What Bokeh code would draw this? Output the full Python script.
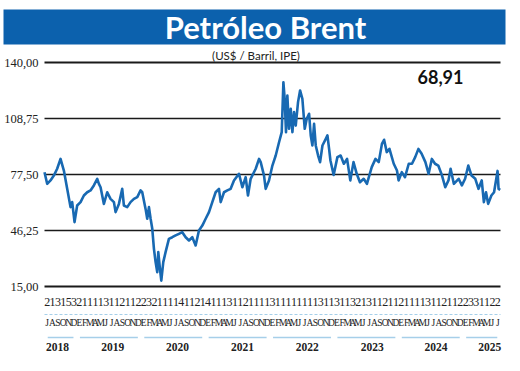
from bokeh.plotting import figure
from bokeh.models import Range1d
from bokeh.core.properties import value
from bokeh.embed import file_html
from bokeh.resources import INLINE

# ---------------- data ----------------
title_text = "Petróleo Brent"
subtitle_text = "(US$ / Barril, IPE)"

y_ticks = [15.0, 46.25, 77.5, 108.75, 140.0]

# time in months since 1 Jul 2018
t_months = [
    0.00, 0.50, 1.12, 1.74, 2.36, 2.99, 3.61, 4.23, 4.85, 5.16, 5.60,
    6.09, 6.72, 7.34, 7.96, 8.58, 9.20, 9.83, 10.14, 10.45, 11.07, 11.69,
    12.31, 12.94, 13.25, 13.87, 14.49, 14.80, 15.42, 16.04, 16.67, 17.29,
    17.91, 18.22, 18.84, 19.15, 19.47, 19.78, 20.09, 20.40, 20.71, 21.02,
    21.21, 21.52, 21.77, 22.14, 22.57, 23.19, 23.82, 24.44, 25.06, 25.68,
    26.31, 26.93, 27.55, 28.17, 28.79, 29.42, 30.04, 30.66, 31.28, 31.90,
    32.52, 32.84, 33.46, 34.08, 34.70, 35.32, 36.25, 36.88, 37.50, 37.93,
    38.43, 39.37, 39.99,
    40.30, 40.92, 41.23, 41.85, 42.48, 43.10, 43.72, 44.22, 44.53, 44.77,
    45.02, 45.27, 45.58, 45.90, 46.21, 46.52, 46.83, 47.26, 47.64, 48.07,
    48.51, 48.88, 49.32, 49.63, 49.94, 50.25, 50.56, 51.00, 51.37, 51.81,
    52.43, 52.74, 53.05,
    53.3, 53.9, 54.6, 55.2, 55.8, 56.4, 57.0, 57.6, 58.2, 58.8,
    59.5, 60.1, 61.0, 61.7, 62.3, 62.9, 63.3, 63.8, 64.3, 65.1,
    65.7, 66.0, 66.6, 67.2, 67.9, 68.5, 69.1, 69.7, 70.3, 71.0,
    71.6, 72.2, 72.8, 73.4, 74.1, 74.7, 75.3, 75.7, 76.3, 77.2,
    77.8, 78.4, 79.0, 79.6, 80.3, 80.9, 81.5, 81.9, 82.3, 82.7,
    83.3, 83.8, 84.45, 84.64, 84.95,
]

brent_usd = [
    78.8, 72.3, 74.2, 76.9, 80.7, 86.2, 79.7, 69.5, 59.3, 62.1, 50.9,
    60.2, 62.1, 65.8, 67.6, 68.6, 71.4, 75.1, 72.3, 70.4, 61.1, 67.6,
    63.9, 62.1, 56.5, 61.1, 69.5, 60.2, 59.3, 62.1, 63.9, 64.9,
    68.6, 67.6, 58.3, 52.8, 59.3, 52.8, 47.2, 36.0, 28.6, 23.0,
    34.2, 24.9, 18.3, 28.6, 34.2, 41.6, 42.5, 43.5, 44.4, 45.3,
    42.5, 40.7, 42.5, 37.9, 46.3, 49.0, 52.8, 56.5, 62.1, 67.6,
    69.5, 62.1, 67.6, 68.6, 69.5, 74.2, 77.9, 70.4, 76.0, 65.8,
    75.1, 80.7, 86.2,
    84.4, 76.9, 69.5, 74.2, 82.5, 88.1, 95.5, 101.1, 129.0, 119.7,
    101.1, 121.6, 103.0, 114.1, 101.1, 112.3, 104.8, 117.9, 124.4, 119.7,
    103.0, 108.6, 111.4, 99.3, 93.7, 105.8, 93.7, 88.1, 84.4, 93.7,
    97.4, 99.3, 91.8,
    85.3, 77.2, 87.2, 88.1, 83.5, 86.2, 74.2, 84.4, 77.9, 73.2,
    75.1, 72.3, 81.6, 86.2, 84.4, 94.6, 96.9, 90.0, 91.8, 83.5,
    79.7, 74.2, 78.8, 76.0, 83.5, 83.5, 87.2, 91.8, 89.1, 84.4,
    77.9, 86.2, 83.5, 82.5, 76.9, 70.4, 74.2, 80.7, 72.3, 75.1,
    71.4, 75.1, 82.5, 76.9, 75.1, 69.5, 74.2, 62.1, 67.6, 61.1,
    65.8, 67.6, 79.5, 69.5, 68.91,
]

day_labels = (
    ["2", "1", "3", "1", "5", "3"]
    + ["2", "1", "1", "1", "1", "3", "1", "1", "2", "1", "1", "2"]
    + ["2", "3", "2", "1", "1", "1", "1", "4", "1", "1", "2", "1"]
    + ["4", "1", "1", "1", "3", "1", "1", "2", "1", "1", "1", "1"]
    + ["3", "1", "1", "1", "1", "1", "1", "1", "1", "3", "1", "1"]
    + ["3", "1", "1", "3", "2", "1", "3", "1", "1", "2", "1", "1"]
    + ["2", "1", "1", "1", "1", "3", "1", "1", "2", "1", "1", "2"]
    + ["2", "3", "3", "1", "1", "2", "2"]
)

month_letters = (
    ["J", "A", "S", "O", "N", "D"]
    + ["E", "F", "M", "A", "M", "J", "J", "A", "S", "O", "N", "D"] * 6
    + ["E", "F", "M", "A", "M", "J", "J"]
)

years = ["2018", "2019", "2020", "2021", "2022", "2023", "2024", "2025"]
year_start = [0, 6, 18, 30, 42, 54, 66, 78]
year_end = [6, 18, 30, 42, 54, 66, 78, 85]
year_label_pos = [2.4, 12.7, 24.8, 36.9, 49.0, 61.1, 73.0, 83.0]

# ---------------- layout helpers (picture pixels -> data) ----------------
W, H = 520, 371
ORIGIN = 0  # canvas origin in picture pixels
n_months = len(day_labels)
PX_LEFT, PX_RIGHT = 44.0, 500.0
PY_TOP, PY_BOTTOM = 62.0, 286.0
px_per_month = (PX_RIGHT - PX_LEFT) / n_months
px_per_unit = (PY_BOTTOM - PY_TOP) / (y_ticks[-1] - y_ticks[0])


def dx(px):
    return (px - PX_LEFT) / px_per_month


def dy(py):
    return y_ticks[-1] - (py - PY_TOP) / px_per_unit


BAR_BLUE = "#0c61ad"
LINE_BLUE = "#1869b2"
LIGHT_BLUE = "#a6cfe9"
NARROW = value("Liberation Sans Narrow")

p = figure(
    width=W, height=H, output_backend="svg", toolbar_location=None,
    x_range=Range1d(dx(ORIGIN), dx(ORIGIN + W)),
    y_range=Range1d(dy(ORIGIN + H), dy(ORIGIN)),
    x_axis_location=None, y_axis_location=None, title=None,
    min_border=0, outline_line_color=None,
)
p.xgrid.visible = False
p.ygrid.visible = False
p.background_fill_color = "white"
p.border_fill_color = "white"

# title bar
p.quad(left=[dx(3)], right=[dx(505)], top=[dy(9)], bottom=[dy(44)],
       fill_color=BAR_BLUE, line_color=None)
p.text(x=[dx(265)], y=[dy(26.5)], text=[title_text], text_align="center",
       text_baseline="middle", text_color="white",
       text_font=value("Lato"), text_font_style="bold", text_font_size="31px")
p.text(x=[dx(255.5)], y=[dy(55)], text=[subtitle_text], text_align="center",
       text_baseline="middle", text_color="#222222",
       text_font=value("Lato"), text_font_size="11.5px")

# horizontal grid lines
widths = [2.2 if v in (y_ticks[0], y_ticks[-1]) else 1.3 for v in y_ticks]
p.segment(x0=[0] * len(y_ticks), x1=[n_months] * len(y_ticks),
          y0=y_ticks, y1=y_ticks, line_color="#1a1a1a", line_width=widths)

# y tick labels
p.text(x=[dx(38)] * len(y_ticks), y=y_ticks,
       text=[f"{v:.2f}".replace(".", ",") for v in y_ticks],
       text_align="right", text_baseline="middle", text_color="#222222",
       text_font=NARROW, text_font_size="12.5px")

# data line
p.line(t_months, brent_usd, line_color=LINE_BLUE, line_width=2.6,
       line_join="round")

# last value
p.text(x=[dx(440)], y=[dy(76)],
       text=[f"{brent_usd[-1]:.2f}".replace(".", ",")],
       text_align="center", text_baseline="middle", text_color="#111111",
       text_font=value("Lato"), text_font_style="bold", text_font_size="18px")

# bottom labels
centers = [i + 0.5 for i in range(n_months)]
p.text(x=centers, y=[dy(301.5)] * n_months, text=day_labels,
       text_align="center", text_baseline="middle", text_color="#222222",
       text_font=NARROW, text_font_size="12px")
p.line([0, n_months], [dy(314), dy(314)], line_color=LIGHT_BLUE,
       line_width=1.2, line_dash="3 2")
p.text(x=centers, y=[dy(322)] * n_months, text=month_letters,
       text_align="center", text_baseline="middle", text_color="#222222",
       text_font=NARROW, text_font_size="9.5px")
p.segment(x0=[s + 0.6 for s in year_start], x1=[e - 0.6 for e in year_end],
          y0=[dy(337)] * len(years), y1=[dy(337)] * len(years),
          line_color=LIGHT_BLUE, line_width=1.5)
p.text(x=year_label_pos, y=[dy(346)] * len(years), text=years,
       text_align="center", text_baseline="middle", text_color="#222222",
       text_font=NARROW, text_font_style="bold", text_font_size="11.5px")

open("out.html", "w").write(file_html(p, INLINE))
